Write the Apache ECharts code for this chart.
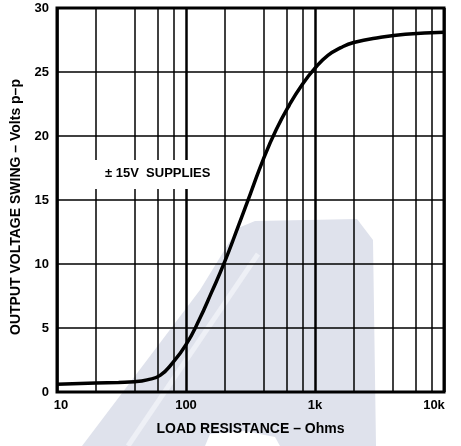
<!DOCTYPE html>
<html>
<head>
<meta charset="utf-8">
<script src="https://cdn.jsdelivr.net/npm/echarts@6/dist/echarts.min.js"></script>
<style>
html,body{margin:0;padding:0;background:#fff;}
#chart{width:461px;height:446px;}
</style>
</head>
<body>
<div id="chart"></div>
<script>
// Data
const resistance = [10, 20, 30, 40, 50, 63, 79, 100, 126, 158, 200, 251, 316, 398, 501, 631, 794, 1000, 1259, 1585, 1995, 3162, 5012, 10000];
const voltage    = [0.6, 0.7, 0.75, 0.8, 0.95, 1.3, 2.3, 3.7, 5.6, 7.8, 10.2, 12.8, 15.5, 18.2, 20.5, 22.4, 24.0, 25.3, 26.3, 26.9, 27.3, 27.7, 27.95, 28.1];
const xTickValues = [10, 100, 1000, 10000];
const xTickLabels = ['10', '100', '1k', '10k'];
const minorGridValues = [20, 40, 60, 80, 200, 400, 600, 800, 2000, 4000, 6000, 8000];
const yTicks = [0, 5, 10, 15, 20, 25, 30];
const xName = 'LOAD RESISTANCE \u2013 Ohms';
const yName = 'OUTPUT VOLTAGE SWING \u2013 Volts p\u2013p';
const noteText = '\u00b1 15V  SUPPLIES';

const font = '"Liberation Sans", Arial, Helvetica, sans-serif';
const chart = echarts.init(document.getElementById('chart'), null, {renderer: 'canvas'});

const seriesData = resistance.map((r, i) => [r, voltage[i]]);

chart.setOption({
  animation: false,
  backgroundColor: '#fff',
  grid: {left: 57, top: 8, right: 17, bottom: 54, show: true, borderColor: '#000', borderWidth: 3, backgroundColor: 'transparent', z: 3},
  graphic: [
    {type: 'polygon', z: -10, silent: true,
     shape: {points: [[82,446],[200,290],[238,228],[255,221],[357,219],[373,240],[376,446]]},
     style: {fill: '#dfe2ec'}},
    {type: 'polyline', z: -9, silent: true,
     shape: {points: [[128,446],[258,254]]},
     style: {stroke: '#eef0f6', lineWidth: 5}},
    {type: 'polygon', z: -9, silent: true,
     shape: {points: [[205,446],[210,434],[245,431],[275,437],[280,446]]},
     style: {fill: '#ffffff'}},
    {type: 'rect', z: 50, silent: true,
     shape: {x: 90, y: 160, width: 130, height: 29},
     style: {fill: '#ffffff'}},
    {type: 'text', z: 51, silent: true, x: 105, y: 173,
     style: {text: noteText, font: 'bold 13px ' + font, fill: '#000', textVerticalAlign: 'middle'}}
  ],
  xAxis: {
    type: 'log', logBase: 10, min: 10, max: 10000,
    name: xName, nameLocation: 'middle', nameGap: 30,
    nameTextStyle: {fontFamily: font, fontWeight: 'bold', fontSize: 14, color: '#000'},
    axisLine: {show: false},
    axisTick: {show: false},
    axisLabel: {
      margin: 7, color: '#000', fontFamily: font, fontWeight: 'bold', fontSize: 13,
      formatter: function (v) {
        const i = xTickValues.findIndex(t => Math.abs(t - v) / t < 1e-6);
        if (i < 0) return '';
        if (i === 0) return '{first|' + xTickLabels[i] + '}';
        if (i === xTickValues.length - 1) return '{last|' + xTickLabels[i] + '}';
        return xTickLabels[i];
      },
      rich: {
        first: {padding: [0, 0, 0, 8], color: '#000', fontFamily: font, fontWeight: 'bold', fontSize: 13},
        last: {padding: [0, 20, 0, 0], color: '#000', fontFamily: font, fontWeight: 'bold', fontSize: 13}
      }
    },
    splitLine: {show: true, lineStyle: {color: '#000', width: 2.5}}
  },
  yAxis: {
    type: 'value', min: yTicks[0], max: yTicks[yTicks.length - 1], interval: 5,
    name: yName, nameLocation: 'middle', nameGap: 28, nameRotate: 90,
    nameTextStyle: {fontFamily: font, fontWeight: 'bold', fontSize: 14, color: '#000', padding: [0, 14, 0, 0]},
    axisLine: {show: false},
    axisTick: {show: false},
    axisLabel: {margin: 8, color: '#000', fontFamily: font, fontWeight: 'bold', fontSize: 13},
    splitLine: {show: true, lineStyle: {color: '#000', width: 1.5}}
  },
  series: [{
    type: 'line',
    data: seriesData,
    smooth: 0.5,
    showSymbol: false,
    z: 5,
    lineStyle: {color: '#000', width: 3.5},
    markLine: {
      silent: true, symbol: 'none', animation: false,
      label: {show: false},
      lineStyle: {color: '#000', width: 1.5, type: 'solid'},
      data: minorGridValues.map(v => ({xAxis: v}))
    }
  }]
});
</script>
</body>
</html>
